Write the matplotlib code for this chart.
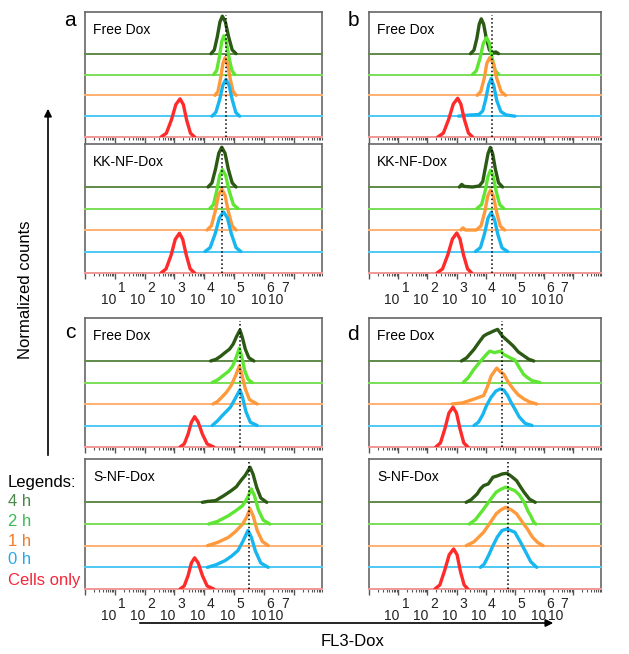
import numpy as np
import matplotlib
matplotlib.use('Agg')
from matplotlib import pyplot as plt
from matplotlib.patches import FancyArrowPatch

plt.rcParams['font.family'] = ['Liberation Sans', 'DejaVu Sans']

W, H = 629, 654  # figure size in px

groups = ['4 h', '2 h', '1 h', '0 h', 'Cells only']
line_colors = ['#2c5a14', '#5ee633', '#ff9a3c', '#18b6f0', '#ff2a2a']
base_colors = ['#5f8a48', '#7ade58', '#ffb070', '#4cc8f4', '#f49a9a']
legend_colors = ['#4a874a', '#3dba55', '#f07a28', '#2aa8e6', '#f2283a']

# x = log10 fluorescence (decades), y = normalized count; order: 4 h, 2 h, 1 h, 0 h, cells only
a_free = [
    [(4.23, 0), (4.34, 0.18), (4.44, 0.81), (4.53, 1.53), (4.61, 1.80), (4.71, 1.53), (4.82, 0.81), (4.94, 0.18), (5.07, 0)],
    [(4.32, 0), (4.42, 0.19), (4.51, 0.84), (4.59, 1.58), (4.66, 1.86), (4.74, 1.58), (4.83, 0.84), (4.93, 0.19), (5.03, 0)],
    [(4.36, 0), (4.46, 0.18), (4.55, 0.81), (4.63, 1.54), (4.70, 1.81), (4.78, 1.54), (4.87, 0.81), (4.97, 0.18), (5.07, 0)],
    [(4.26, 0), (4.39, 0.18), (4.52, 0.80), (4.63, 1.50), (4.73, 1.77), (4.83, 1.50), (4.94, 0.80), (5.06, 0.18), (5.19, 0)],
    [(2.55, 0), (2.73, 0.18), (2.90, 0.82), (3.05, 1.56), (3.19, 1.83), (3.30, 1.56), (3.41, 0.82), (3.54, 0.18), (3.68, 0)],
]
a_kk = [
    [(4.13, 0), (4.26, 0.19), (4.38, 0.83), (4.49, 1.57), (4.59, 1.85), (4.70, 1.57), (4.81, 0.83), (4.94, 0.19), (5.07, 0)],
    [(4.19, 0), (4.31, 0.18), (4.42, 0.81), (4.52, 1.54), (4.61, 1.81), (4.72, 1.54), (4.84, 0.81), (4.98, 0.18), (5.13, 0)],
    [(4.10, 0), (4.24, 0.19), (4.37, 0.86), (4.48, 1.62), (4.59, 1.90), (4.70, 1.62), (4.81, 0.86), (4.94, 0.19), (5.07, 0)],
    [(4.03, 0), (4.20, 0.18), (4.37, 0.83), (4.51, 1.56), (4.65, 1.84), (4.78, 1.56), (4.91, 0.83), (5.07, 0.18), (5.23, 0)],
    [(2.55, 0), (2.72, 0.19), (2.89, 0.83), (3.03, 1.57), (3.17, 1.85), (3.28, 1.57), (3.40, 0.83), (3.53, 0.19), (3.68, 0)],
]
b_free = [
    [(3.48, 0), (3.60, 0.17), (3.70, 0.75), (3.78, 1.42), (3.85, 1.67), (3.93, 1.42), (4.02, 0.75), (4.13, 0.17), (4.26, 0.05), (4.35, 0.08), (4.44, 0)],
    [(3.55, 0), (3.68, 0.18), (3.81, 0.80), (3.92, 1.50), (4.03, 1.77), (4.13, 1.50), (4.22, 0.80), (4.33, 0.18), (4.45, 0)],
    [(3.71, 0), (3.83, 0.18), (3.95, 0.81), (4.04, 1.54), (4.14, 1.81), (4.26, 1.54), (4.38, 0.81), (4.53, 0.18), (4.68, 0)],
    [(3.07, 0), (3.40, 0.05), (3.77, 0.08), (3.90, 0.25), (4.00, 0.80), (4.10, 1.50), (4.19, 1.81), (4.28, 1.45), (4.38, 0.75), (4.52, 0.22), (4.70, 0.06), (5.00, 0)],
    [(2.36, 0), (2.55, 0.19), (2.73, 0.84), (2.89, 1.58), (3.04, 1.86), (3.15, 1.58), (3.27, 0.84), (3.41, 0.19), (3.55, 0)],
]
b_kk = [
    [(3.10, 0), (3.18, 0.12), (3.26, 0.03), (3.55, 0), (3.78, 0.05), (3.90, 0.25), (3.99, 0.90), (4.08, 1.55), (4.16, 1.84), (4.24, 1.55), (4.33, 0.85), (4.44, 0.20), (4.58, 0)],
    [(3.70, 0), (3.86, 0.18), (3.98, 0.80), (4.08, 1.50), (4.17, 1.78), (4.26, 1.50), (4.36, 0.80), (4.48, 0.18), (4.62, 0)],
    [(3.15, 0), (3.22, 0.10), (3.30, 0), (3.68, 0), (3.84, 0.19), (3.97, 0.84), (4.07, 1.58), (4.17, 1.86), (4.27, 1.55), (4.38, 0.80), (4.50, 0.18), (4.65, 0)],
    [(3.65, 0), (3.82, 0.18), (3.96, 0.82), (4.08, 1.55), (4.19, 1.82), (4.30, 1.50), (4.42, 0.78), (4.56, 0.17), (4.75, 0)],
    [(2.33, 0), (2.52, 0.19), (2.70, 0.84), (2.86, 1.58), (3.01, 1.86), (3.12, 1.58), (3.24, 0.84), (3.38, 0.19), (3.52, 0)],
]
c_free = [
    [(4.22, 0), (4.40, 0.08), (4.55, 0.22), (4.70, 0.39), (4.85, 0.55), (4.97, 0.78), (5.08, 1.12), (5.20, 1.44), (5.28, 1.10), (5.38, 0.55), (5.50, 0.15), (5.67, 0)],
    [(4.27, 0), (4.45, 0.12), (4.65, 0.34), (4.82, 0.52), (4.95, 0.75), (5.07, 1.15), (5.18, 1.60), (5.26, 1.20), (5.36, 0.55), (5.47, 0.15), (5.61, 0)],
    [(4.30, 0), (4.45, 0.12), (4.58, 0.30), (4.75, 0.55), (4.90, 0.85), (5.05, 1.30), (5.18, 1.77), (5.27, 1.35), (5.38, 0.70), (5.52, 0.20), (5.78, 0)],
    [(4.27, 0), (4.45, 0.22), (4.60, 0.45), (4.72, 0.62), (4.88, 0.85), (5.04, 1.25), (5.20, 1.66), (5.29, 1.30), (5.40, 0.65), (5.55, 0.15), (5.78, 0)],
    [(3.19, 0), (3.33, 0.14), (3.46, 0.60), (3.57, 1.15), (3.68, 1.41), (3.80, 1.15), (3.94, 0.60), (4.10, 0.14), (4.32, 0)],
]
c_s = [
    [(3.94, 0), (4.10, 0.04), (4.38, 0.08), (4.65, 0.30), (4.91, 0.54), (5.08, 0.72), (5.23, 1.00), (5.38, 1.25), (5.54, 1.62), (5.64, 1.30), (5.76, 0.70), (5.90, 0.20), (6.10, 0)],
    [(4.16, 0), (4.45, 0.12), (4.81, 0.38), (5.05, 0.60), (5.29, 0.85), (5.45, 1.20), (5.58, 1.62), (5.69, 1.30), (5.82, 0.65), (5.98, 0.18), (6.20, 0)],
    [(4.11, 0), (4.45, 0.15), (4.81, 0.38), (5.05, 0.65), (5.29, 1.00), (5.42, 1.30), (5.54, 1.70), (5.65, 1.35), (5.78, 0.70), (5.95, 0.20), (6.15, 0)],
    [(4.11, 0), (4.40, 0.12), (4.70, 0.31), (4.92, 0.52), (5.13, 0.77), (5.30, 1.20), (5.47, 1.70), (5.58, 1.40), (5.72, 0.75), (5.90, 0.20), (6.15, 0)],
    [(3.19, 0), (3.33, 0.14), (3.46, 0.62), (3.57, 1.20), (3.68, 1.44), (3.80, 1.20), (3.94, 0.62), (4.10, 0.14), (4.32, 0)],
]
d_free = [
    [(3.17, 0), (3.35, 0.15), (3.60, 0.54), (3.76, 0.85), (3.93, 1.16), (4.04, 1.25), (4.14, 1.31), (4.28, 1.40), (4.41, 1.47), (4.50, 1.30), (4.57, 1.16), (4.70, 1.00), (4.80, 0.88), (4.95, 0.69), (5.12, 0.42), (5.32, 0.23), (5.48, 0.08), (5.65, 0)],
    [(3.23, 0), (3.40, 0.22), (3.60, 0.62), (3.80, 0.95), (4.03, 1.31), (4.14, 1.46), (4.30, 1.39), (4.52, 1.46), (4.62, 1.30), (4.73, 1.23), (4.88, 1.12), (5.00, 1.05), (5.15, 0.70), (5.30, 0.38), (5.43, 0.23), (5.60, 0.08), (5.86, 0)],
    [(2.85, 0), (3.20, 0.05), (3.60, 0.23), (3.93, 0.39), (4.06, 0.80), (4.19, 1.31), (4.38, 1.67), (4.50, 1.50), (4.62, 1.39), (4.78, 1.00), (4.95, 0.69), (5.12, 0.42), (5.32, 0.23), (5.50, 0.10), (5.75, 0)],
    [(3.60, 0), (3.75, 0.15), (3.90, 0.50), (4.03, 0.93), (4.18, 1.30), (4.35, 1.60), (4.50, 1.70), (4.62, 1.65), (4.75, 1.40), (4.88, 1.05), (5.00, 0.77), (5.15, 0.40), (5.35, 0.10), (5.59, 0)],
    [(2.29, 0), (2.45, 0.19), (2.60, 0.84), (2.74, 1.58), (2.88, 1.85), (3.00, 1.58), (3.12, 0.84), (3.25, 0.19), (3.39, 0)],
]
d_s = [
    [(3.33, 0), (3.50, 0.12), (3.71, 0.39), (3.82, 0.62), (3.93, 0.77), (4.09, 0.85), (4.25, 1.16), (4.40, 1.22), (4.57, 1.31), (4.73, 1.34), (4.88, 1.20), (5.06, 1.00), (5.20, 0.70), (5.32, 0.46), (5.50, 0.15), (5.70, 0)],
    [(3.44, 0), (3.65, 0.20), (3.93, 0.69), (4.15, 1.10), (4.36, 1.47), (4.52, 1.60), (4.68, 1.70), (4.85, 1.62), (5.00, 1.54), (5.15, 1.35), (5.32, 1.00), (5.45, 0.60), (5.54, 0.39), (5.65, 0.08), (5.72, 0)],
    [(3.33, 0), (3.60, 0.18), (3.93, 0.62), (4.15, 1.05), (4.36, 1.47), (4.52, 1.65), (4.68, 1.77), (4.88, 1.65), (5.06, 1.47), (5.25, 1.10), (5.43, 0.77), (5.60, 0.40), (5.78, 0.15), (5.97, 0)],
    [(3.82, 0), (3.95, 0.15), (4.10, 0.55), (4.25, 1.00), (4.40, 1.40), (4.56, 1.70), (4.73, 1.77), (4.86, 1.70), (5.00, 1.62), (5.20, 1.15), (5.38, 0.69), (5.55, 0.25), (5.75, 0)],
    [(2.26, 0), (2.43, 0.19), (2.59, 0.84), (2.75, 1.58), (2.90, 1.85), (3.02, 1.58), (3.13, 0.84), (3.26, 0.19), (3.39, 0)],
]

# dotted reference line (decades) per panel: [top, bottom]
ref_a = [4.73, 4.61]
ref_b = [4.22, 4.23]
ref_c = [5.20, 5.51]
ref_d = [4.57, 4.77]

exponents = ['1', '2', '3', '4', '5', '6', '7']
base_pos = [0.79, 1.76, 2.77, 3.77, 4.78, 5.83, 6.40]
sup_pos = [1.25, 2.22, 3.22, 4.20, 5.21, 6.20, 6.70]


def axes_at(x0, w, top, bot):
    return fig.add_axes([x0 / W, 1 - bot / H, w / W, (bot - top) / H])


def draw_stack(ax, curves, ref, title, xmax, labels):
    for i, pts in enumerate(curves):
        off = len(curves) - 1 - i
        ax.axhline(off, color=base_colors[i], lw=1.4, zorder=3, clip_on=False)
        xs = [p[0] for p in pts]
        ys = [p[1] + off for p in pts]
        ax.plot(xs, ys, color=line_colors[i], lw=2.4, zorder=4,
                solid_joinstyle='round', solid_capstyle='round')
    ax.axvline(ref, ymax=0.98, color='black', ls=':', lw=1.1, zorder=5)
    ax.set_xlim(0.13, xmax)
    ax.set_ylim(0, 6)
    ax.set_yticks([])
    majors = np.arange(0, 8)
    minors = [d + np.log10(k) for d in range(0, 8) for k in range(2, 10)]
    ax.set_xticks(majors)
    ax.set_xticks(minors, minor=True)
    ax.set_xticklabels([])
    ax.tick_params(axis='x', which='major', direction='out', length=4, width=1, color='#555555')
    ax.tick_params(axis='x', which='minor', direction='out', length=2.5, width=0.8, color='#555555')
    for s in ax.spines.values():
        s.set_color('#666666')
        s.set_linewidth(1.2)
    ax.text(0.035, 0.86, title, transform=ax.transAxes, fontsize=10, va='center', ha='left')
    if labels:
        for e, bp, sp in zip(exponents, base_pos, sup_pos):
            ax.annotate('10', xy=(bp, 0), xycoords=('data', 'axes fraction'),
                        xytext=(0, -19.5), textcoords='offset points',
                        ha='center', va='center', fontsize=10, color='#222222')
            ax.annotate(e, xy=(sp, 0), xycoords=('data', 'axes fraction'),
                        xytext=(0, -10.5), textcoords='offset points',
                        ha='center', va='center', fontsize=10, color='#222222')


fig = plt.figure(figsize=(W / 100, H / 100), dpi=100)

L1, W1 = 85, 237
L2, W2 = 369, 232
x1max = 0.13 + W1 / 31
x2max = 0.13 + W2 / 31

draw_stack(axes_at(L1, W1, 12, 137), a_free, ref_a[0], 'Free Dox', x1max, False)
draw_stack(axes_at(L1, W1, 144, 273), a_kk, ref_a[1], 'KK-NF-Dox', x1max, True)
draw_stack(axes_at(L2, W2, 12, 137), b_free, ref_b[0], 'Free Dox', x2max, False)
draw_stack(axes_at(L2, W2, 144, 273), b_kk, ref_b[1], 'KK-NF-Dox', x2max, True)
draw_stack(axes_at(L1, W1, 318, 447), c_free, ref_c[0], 'Free Dox', x1max, False)
draw_stack(axes_at(L1, W1, 459, 589), c_s, ref_c[1], 'S-NF-Dox', x1max, True)
draw_stack(axes_at(L2, W2, 318, 447), d_free, ref_d[0], 'Free Dox', x2max, False)
draw_stack(axes_at(L2, W2, 459, 589), d_s, ref_d[1], 'S-NF-Dox', x2max, True)

# panel letters
for lab, px, py in [('a', 70, 20), ('b', 353, 21), ('c', 70, 332), ('d', 353, 334)]:
    fig.text(px / W, 1 - py / H, lab, fontsize=15, ha='center', va='center')

# legend
fig.text(8 / W, 1 - 482 / H, 'Legends:', fontsize=12, va='center', ha='left')
for g, c, py in zip(groups, legend_colors, [502, 521, 541, 560, 580]):
    fig.text(8 / W, 1 - py / H, g, fontsize=12, va='center', ha='left', color=c)

# axis arrows
fig.add_artist(FancyArrowPatch((48 / W, 1 - 458 / H), (48 / W, 1 - 106 / H),
                               transform=fig.transFigure, arrowstyle='-|>',
                               mutation_scale=11, lw=1.2, color='black'))
fig.text(26 / W, 1 - 290 / H, 'Normalized counts', rotation=90, fontsize=12,
         ha='center', va='center')
fig.add_artist(FancyArrowPatch((137 / W, 1 - 623 / H), (556 / W, 1 - 623 / H),
                               transform=fig.transFigure, arrowstyle='-|>',
                               mutation_scale=11, lw=1.2, color='black'))
fig.text(353 / W, 1 - 641 / H, 'FL3-Dox', fontsize=12, ha='center', va='center')

fig.savefig('out.png', dpi=100)
